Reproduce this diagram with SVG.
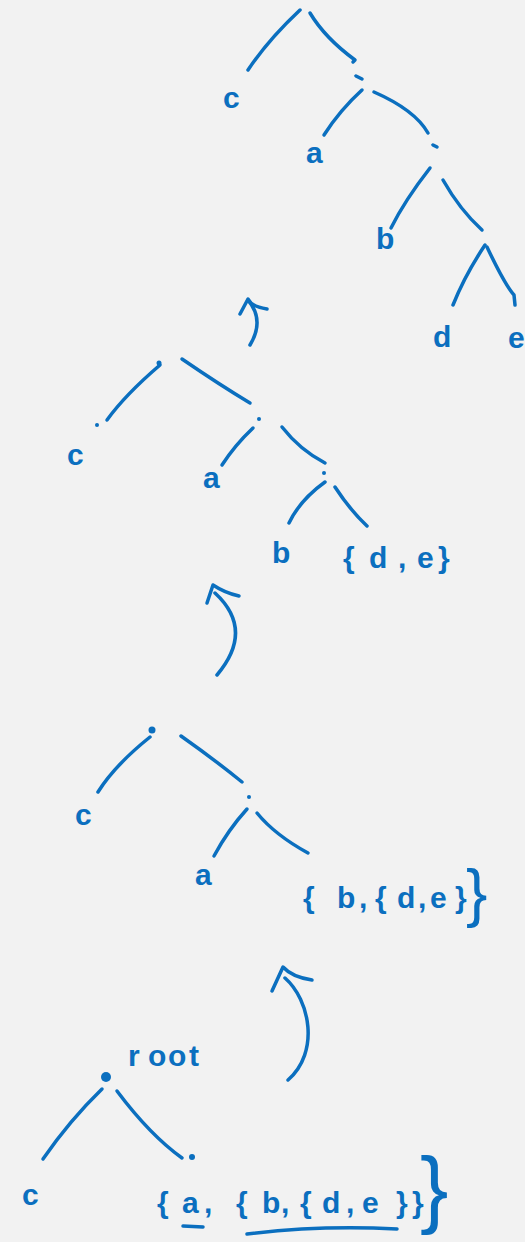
<svg xmlns="http://www.w3.org/2000/svg" width="525" height="1242" viewBox="0 0 525 1242">
  <style>
    .ln { fill: none; stroke: #0b6fbf; stroke-width: 3.5; stroke-linecap: round; stroke-linejoin: round; }
    .dot { fill: #0b6fbf; }
    .t { font-family: "Liberation Sans", "DejaVu Sans", sans-serif; font-size: 30px; font-weight: 700; fill: #0b6fbf; }
    .big { font-weight: 400; }
  </style>
  <rect width="525" height="1242" fill="#f2f2f2"/>

  <!-- edges and step arrows -->
  <g id="connectors" class="ln">
    <!-- tree 1 (fully expanded) -->
    <path d="M300,10 Q268,40 248,70"/>
    <path d="M310,13 Q325,38 355,60 L353,62"/>
    <path d="M356,76 L362,79"/>
    <path d="M362,90 Q340,110 324,135"/>
    <path d="M374,92 Q415,110 428,133"/>
    <path d="M433,145 L437,147"/>
    <path d="M430,168 Q405,200 391,228"/>
    <path d="M443,180 Q460,210 482,230"/>
    <path d="M485,245 Q465,275 453,305"/>
    <path d="M487,247 Q505,285 514,295 L515,305"/>
    <!-- arrow between tree 2 and tree 1 -->
    <path d="M250,345 Q265,320 248,300"/>
    <path d="M240,314 L248,299 Q252,307 267,309"/>

    <!-- tree 2 -->
    <path d="M160,365 Q125,395 107,420"/>
    <path d="M182,359 Q220,385 250,403"/>
    <path d="M253,428 Q235,445 222,465"/>
    <path d="M282,427 Q300,450 325,463"/>
    <path d="M325,482 Q300,500 289,523"/>
    <path d="M335,487 Q350,510 367,526"/>
    <!-- arrow between tree 3 and tree 2 -->
    <path d="M217,675 Q255,630 215,593"/>
    <path d="M207,603 L213,585 Q225,593 239,596"/>

    <!-- tree 3 -->
    <path d="M150,737 Q115,765 98,792"/>
    <path d="M181,736 Q215,760 242,782"/>
    <path d="M247,809 Q228,830 214,856"/>
    <path d="M257,813 Q275,835 308,853"/>
    <!-- arrow between tree 4 and tree 3 -->
    <path d="M288,1080 C320,1052 310,1000 285,978"/>
    <path d="M272,991 L283,967 Q292,977 312,980"/>

    <!-- tree 4 -->
    <path d="M102,1089 Q70,1120 43,1159"/>
    <path d="M117,1091 Q150,1135 182,1158"/>
    <path d="M183,1226 L203,1227"/>
    <path d="M247,1234 Q320,1225 397,1229"/>
  </g>

  <!-- tree 1 -->
  <g id="t1-c"><text class="t" x="223" y="108">c</text></g>
  <g id="t1-a"><text class="t" x="306" y="163">a</text></g>
  <g id="t1-b"><text class="t" x="376" y="249">b</text></g>
  <g id="t1-d"><text class="t" x="433" y="347">d</text></g>
  <g id="t1-e"><text class="t" x="508" y="348">e</text></g>

  <!-- tree 2 -->
  <g id="t2-root"><circle class="dot" cx="159" cy="363" r="2.5"/></g>
  <g id="t2-c"><circle class="dot" cx="97" cy="425" r="2"/><text class="t" x="67" y="465">c</text></g>
  <g id="t2-inner1"><circle class="dot" cx="259" cy="419" r="2"/></g>
  <g id="t2-a"><text class="t" x="203" y="488">a</text></g>
  <g id="t2-inner2"><circle class="dot" cx="324" cy="473" r="2"/></g>
  <g id="t2-b"><text class="t" x="272" y="563">b</text></g>
  <g id="t2-de"><text class="t" x="343 369 398 417 438" y="568">{d,e}</text></g>

  <!-- tree 3 -->
  <g id="t3-root"><circle class="dot" cx="152" cy="730" r="3.5"/></g>
  <g id="t3-c"><text class="t" x="75" y="825">c</text></g>
  <g id="t3-inner"><circle class="dot" cx="249" cy="797" r="2"/></g>
  <g id="t3-a"><text class="t" x="195" y="885">a</text></g>
  <g id="t3-bde">
    <text class="t" x="303 337 359 375 397 418 430 455" y="908">{b,{d,e}</text>
    <text class="t big" x="466" y="915" style="font-size:64px">}</text>
  </g>

  <!-- tree 4 -->
  <g id="t4-root">
    <circle class="dot" cx="106" cy="1077" r="5"/>
    <text class="t" x="128 148 168 189" y="1066">root</text>
  </g>
  <g id="t4-c"><text class="t" x="22" y="1205">c</text></g>
  <g id="t4-set">
    <circle class="dot" cx="192" cy="1157" r="3"/>
    <text class="t" x="157 182 204 236 262 281 300 322 346 362 396 412" y="1213">{a,{b,{d,e}}</text>
    <text class="t big" x="420" y="1217" style="font-size:85px">}</text>
  </g>
</svg>
